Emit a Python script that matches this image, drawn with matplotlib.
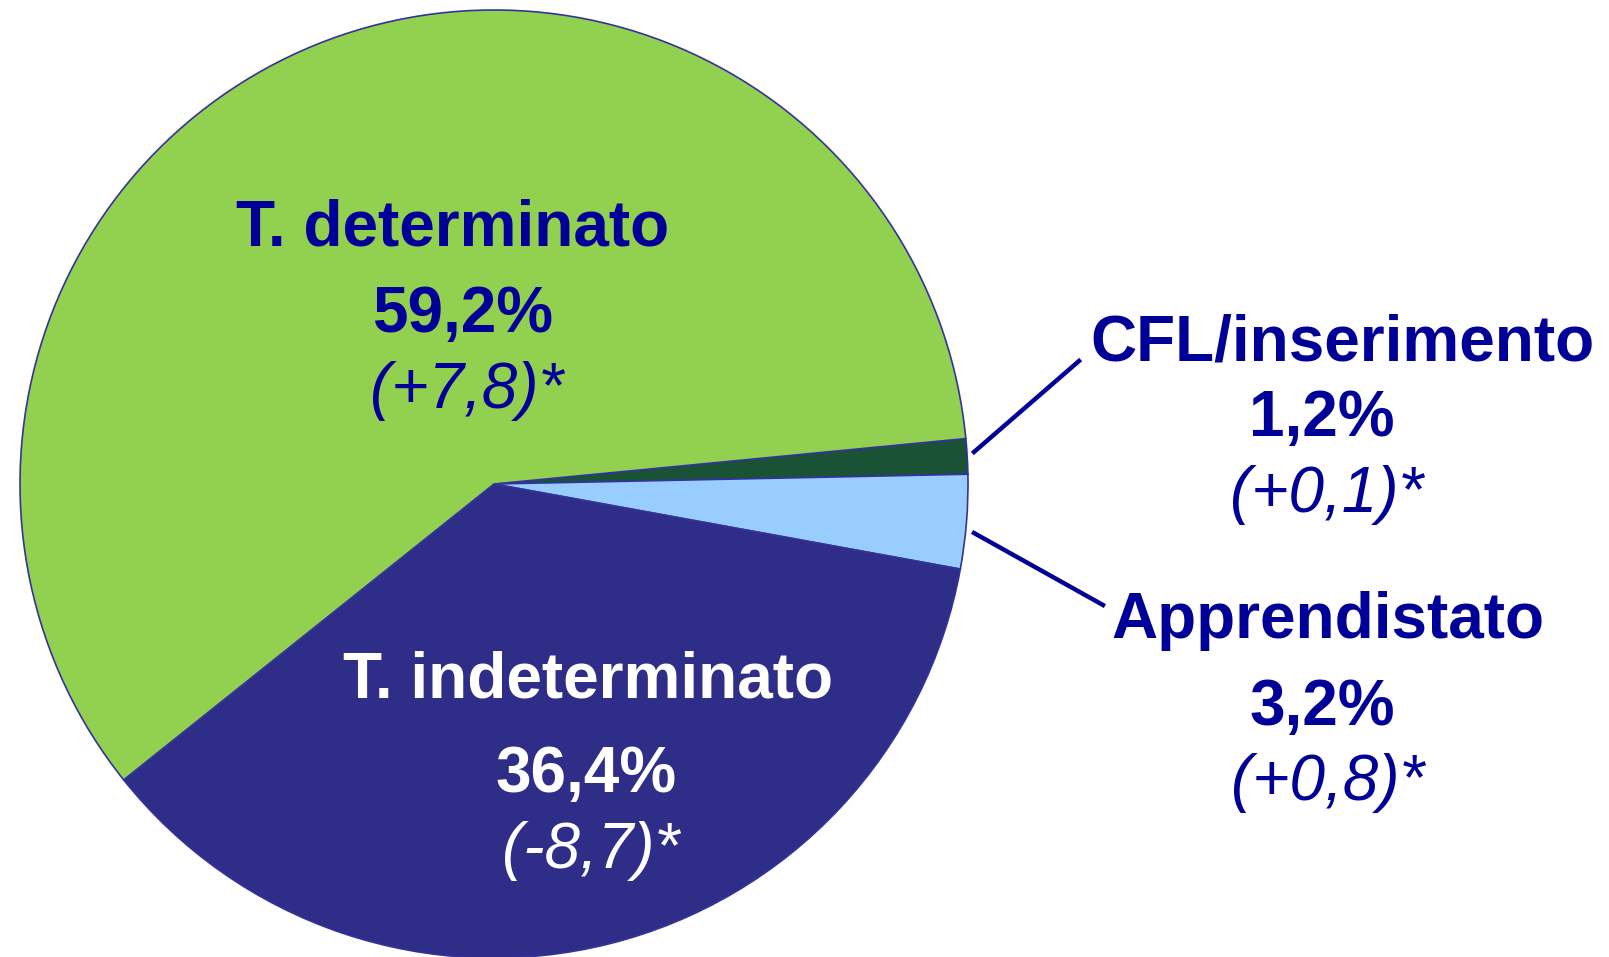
import matplotlib
matplotlib.use("Agg")
import matplotlib.pyplot as plt

# slices, clockwise from the small wedges on the right
labels = ["CFL/inserimento", "Apprendistato", "T. indeterminato", "T. determinato"]
shares = [1.2, 3.2, 36.4, 59.2]
share_txt = ["1,2%", "3,2%", "36,4%", "59,2%"]
delta_txt = ["(+0,1)*", "(+0,8)*", "(-8,7)*", "(+7,8)*"]
colors = ["#1A5236", "#99CCFF", "#2E2D88", "#92D050"]
text_colors = ["#000099", "#000099", "white", "#000099"]

W, H = 1609, 957
fig = plt.figure(figsize=(W / 100, H / 100), dpi=100)
ax = fig.add_axes([0, 0, 1, 1])
plt.rcParams["font.family"] = ["Liberation Sans", "DejaVu Sans"]

cx, cy, r = 494, H - 484, 474
ax.pie(shares, colors=colors, startangle=5.5, counterclock=False,
       center=(cx, cy), radius=r,
       wedgeprops=dict(edgecolor="#33339A", linewidth=1.2))
ax.set_xlim(0, W)
ax.set_ylim(0, H)
ax.axis("off")

# label positions in pixels from the top-left: x of each line, baseline of each line
xs = [
    (1342, 1322, 1327),
    (1328, 1322, 1328),
    (588, 586, 591),
    (453, 463, 467),
]
ys = [
    (360, 436, 512),
    (638, 725, 800),
    (698, 792, 868),
    (246, 332, 408),
]
fs = 46
for i in range(len(labels)):
    c = text_colors[i]
    ax.text(xs[i][0], H - ys[i][0], labels[i], ha="center", va="baseline",
            fontsize=fs, fontweight="bold", color=c)
    ax.text(xs[i][1], H - ys[i][1], share_txt[i], ha="center", va="baseline",
            fontsize=fs, fontweight="bold", color=c)
    ax.text(xs[i][2], H - ys[i][2], delta_txt[i], ha="center", va="baseline",
            fontsize=fs, fontstyle="italic", color=c)

# leader lines to the small slices
ax.plot([974, 1079], [H - 452, H - 361], color="#000099", lw=3.2)
ax.plot([974, 1103], [H - 533, H - 605], color="#000099", lw=3.2)

fig.savefig("out.png", dpi=100)
